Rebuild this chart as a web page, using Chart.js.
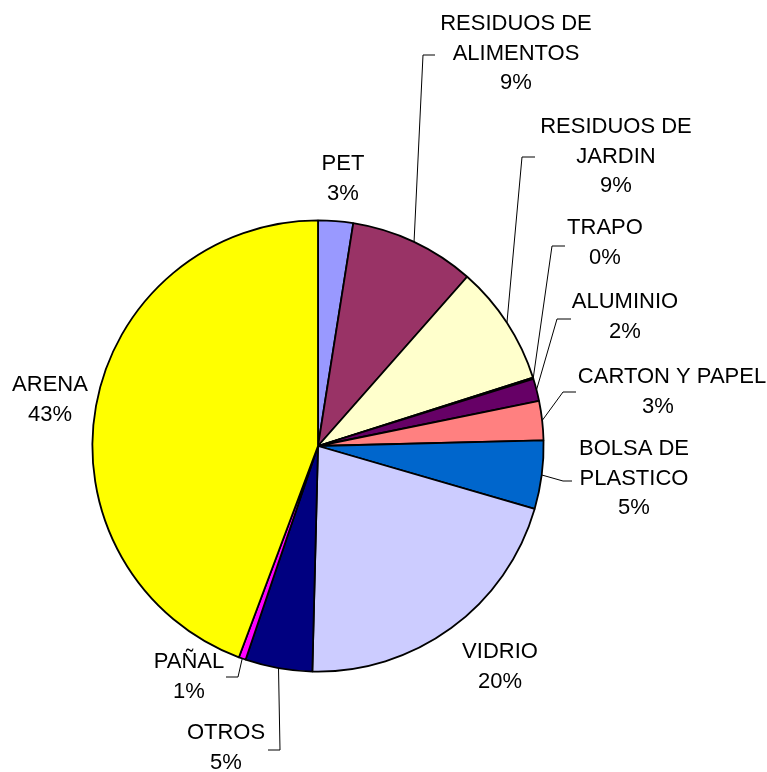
<!DOCTYPE html>
<html>
<head>
<meta charset="utf-8">
<script src="https://cdn.jsdelivr.net/npm/chart.js@4.4.1/dist/chart.umd.min.js"></script>
<style>
  body { margin: 0; background: #fff; }
  #wrap { width: 767px; height: 772px; position: relative; }
</style>
</head>
<body>
<div id="wrap"><canvas id="pieChart"></canvas></div>
<script>
// Categories, values (share of total) and the printed percent labels
const categories = ['PET', 'RESIDUOS DE ALIMENTOS', 'RESIDUOS DE JARDIN', 'TRAPO', 'ALUMINIO',
    'CARTON Y PAPEL', 'BOLSA DE PLASTICO', 'VIDRIO', 'OTROS', 'PAÑAL', 'ARENA'];
const shares = [2.5, 9.0, 8.6, 0.1, 1.6, 2.8, 4.9, 20.9, 4.8, 0.5, 44.3];
const percentLabels = ['3%', '9%', '9%', '0%', '2%', '3%', '5%', '20%', '5%', '1%', '43%'];

const sliceColors = ['#9999FF', '#993366', '#FFFFCC', '#CCFFFF', '#660066',
    '#FF8080', '#0066CC', '#CCCCFF', '#000080', '#FF00FF', '#FFFF00'];

// Where each label sits; elbow = leader line bend, end = where it meets the text
const labelLayout = [
    { lines: ['PET'], x: 343, y: 164 },
    { lines: ['RESIDUOS DE', 'ALIMENTOS'], x: 516, y: 24, elbow: [423, 55], end: [435, 55] },
    { lines: ['RESIDUOS DE', 'JARDIN'], x: 616, y: 127, elbow: [522, 157], end: [535, 157] },
    { lines: ['TRAPO'], x: 605, y: 228, elbow: [552, 246], end: [565, 246] },
    { lines: ['ALUMINIO'], x: 625, y: 302, elbow: [557, 319], end: [571, 319] },
    { lines: ['CARTON Y PAPEL'], x: 658, y: 377, shift: [14], elbow: [563, 392], end: [576, 392] },
    { lines: ['BOLSA DE', 'PLASTICO'], x: 634, y: 449, elbow: [563, 481], end: [572, 481] },
    { lines: ['VIDRIO'], x: 500, y: 652 },
    { lines: ['OTROS'], x: 226, y: 733, elbow: [280, 750], end: [268, 750] },
    { lines: ['PAÑAL'], x: 189, y: 662, elbow: [238, 677], end: [226, 677] },
    { lines: ['ARENA'], x: 50, y: 385 }
];

const pieLabelsPlugin = {
    id: 'pieLabels',
    afterDraw: function(chart) {
        const ctx = chart.ctx;
        const arcs = chart.getDatasetMeta(0).data;
        ctx.save();
        // leader lines
        ctx.strokeStyle = '#000';
        ctx.lineWidth = 1;
        labelLayout.forEach(function(lab, i) {
            if (!lab.elbow) return;
            const arc = arcs[i];
            const mid = (arc.startAngle + arc.endAngle) / 2;
            const ax = arc.x + Math.cos(mid) * arc.outerRadius;
            const ay = arc.y + Math.sin(mid) * arc.outerRadius;
            ctx.beginPath();
            ctx.moveTo(ax, ay);
            ctx.lineTo(lab.elbow[0], lab.elbow[1]);
            ctx.lineTo(lab.end[0], lab.end[1]);
            ctx.stroke();
        });
        // text
        ctx.fillStyle = '#000';
        ctx.font = '22px "Liberation Sans", Arial, sans-serif';
        ctx.textAlign = 'center';
        ctx.textBaseline = 'middle';
        labelLayout.forEach(function(lab, i) {
            const rows = lab.lines.concat([percentLabels[i]]);
            rows.forEach(function(t, r) {
                const dx = (lab.shift && lab.shift[r]) || 0;
                ctx.save();
                ctx.translate(lab.x + dx, lab.y + r * 29.5);
                ctx.scale(1, 1.04);
                ctx.fillText(t, 0, 0);
                ctx.restore();
            });
        });
        ctx.restore();
    }
};

const pieCtx = document.getElementById('pieChart').getContext('2d');
new Chart(pieCtx, {
    type: 'pie',
    data: {
        labels: categories,
        datasets: [{
            data: shares,
            backgroundColor: sliceColors,
            borderColor: '#000',
            borderWidth: 1.8,
            hoverOffset: 0
        }]
    },
    options: {
        responsive: true,
        maintainAspectRatio: false,
        animation: false,
        events: [],
        layout: {
            padding: { left: 91.5, right: 222.5, top: 219.5, bottom: 99.5 }
        },
        plugins: {
            legend: { display: false },
            tooltip: { enabled: false }
        }
    },
    plugins: [pieLabelsPlugin]
});
</script>
</body>
</html>
